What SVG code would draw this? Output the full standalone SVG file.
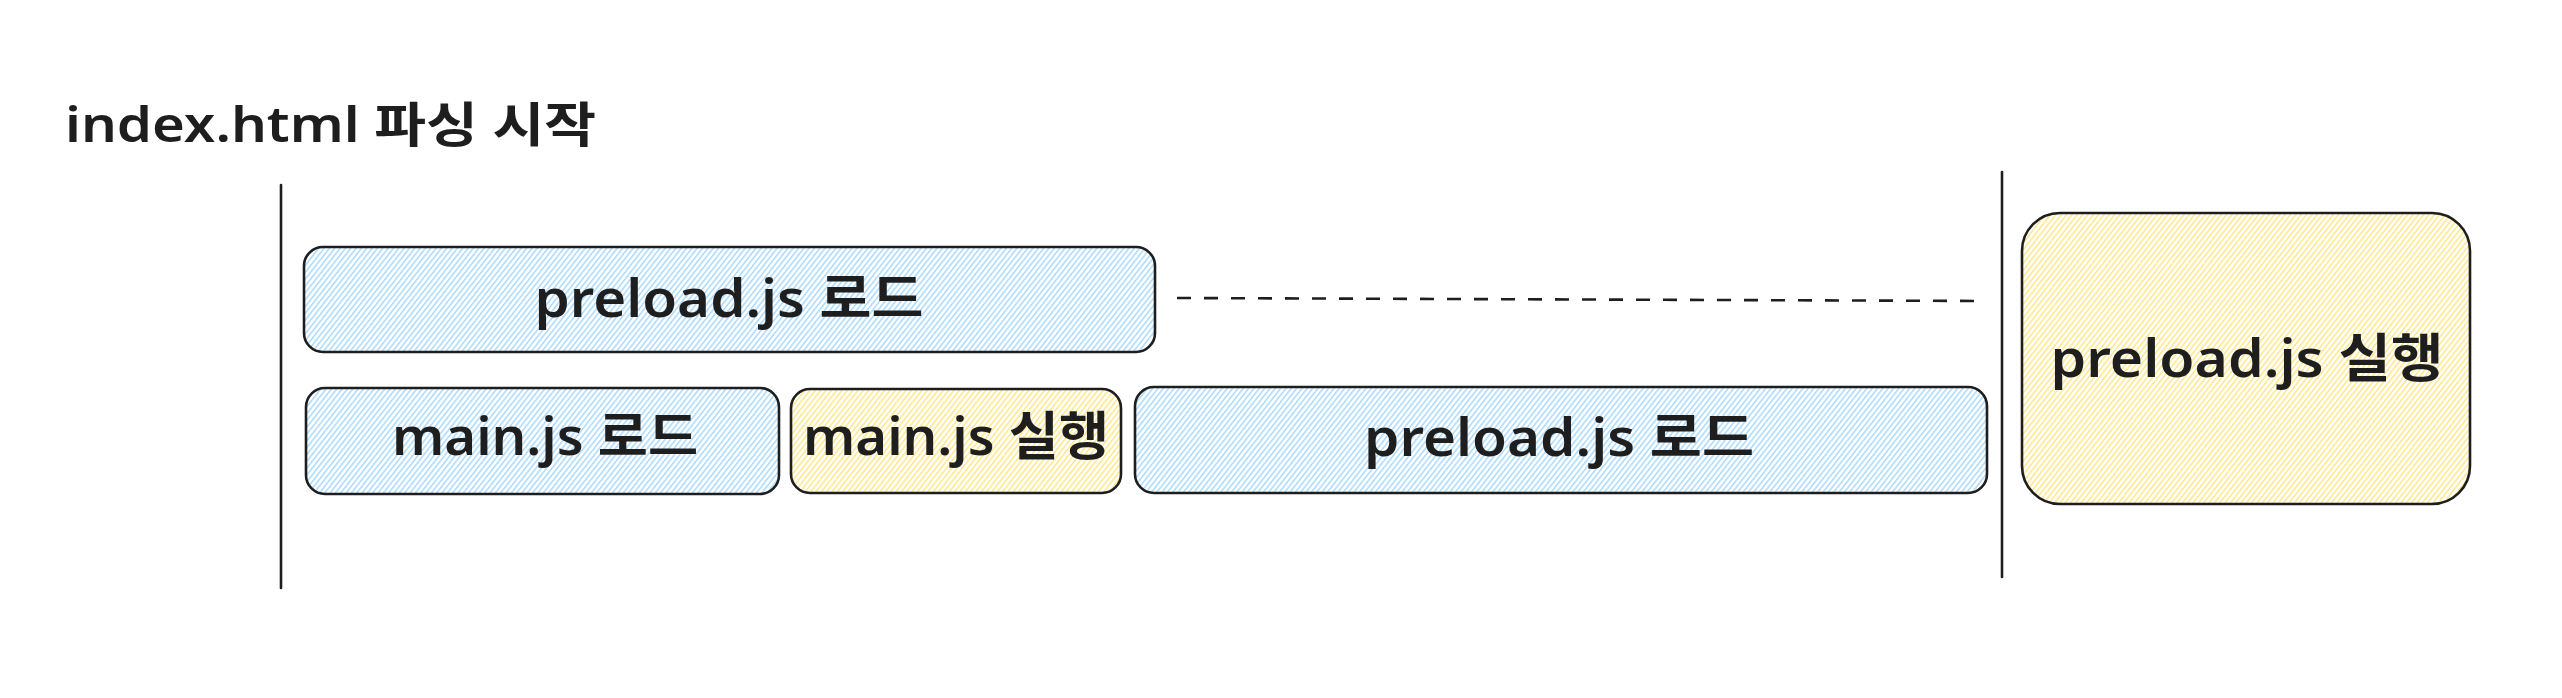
<svg xmlns="http://www.w3.org/2000/svg" width="2562" height="698" viewBox="0 0 2562 698">
  <defs>
    <pattern id="hBlue" patternUnits="userSpaceOnUse" width="4.2" height="10" patternTransform="rotate(38)">
      <rect x="0" y="0" width="4.2" height="10" fill="#ffffff"/>
      <line x1="0.8" y1="0" x2="0.8" y2="10" stroke="#a5d8ff" stroke-width="1.4"/>
    </pattern>
    <pattern id="hYellow" patternUnits="userSpaceOnUse" width="4.2" height="10" patternTransform="rotate(38)">
      <rect x="0" y="0" width="4.2" height="10" fill="#ffffff"/>
      <line x1="0.8" y1="0" x2="0.8" y2="10" stroke="#ffe680" stroke-width="1.4"/>
    </pattern>
  </defs>
  <style>
    .box { stroke: #1e1e1e; stroke-width: 2.6; }
    .blue { fill: url(#hBlue); }
    .yellow { fill: url(#hYellow); }
    .lbl { font-family: "Noto Sans", "Noto Sans CJK KR", sans-serif; font-size: 52px; font-weight: 600; fill: #1e1e1e; text-anchor: middle; }
    .title { font-family: "Noto Sans", "Noto Sans CJK KR", sans-serif; font-size: 48px; font-weight: 600; fill: #1e1e1e; }
    .sep { stroke: #1e1e1e; stroke-width: 2.6; fill: none; stroke-linecap: round; }
    .dash { stroke: #1e1e1e; stroke-width: 2.6; fill: none; stroke-dasharray: 14 13; }
  </style>
  <rect x="0" y="0" width="2562" height="698" fill="#ffffff"/>

  <g id="title">
    <text class="title" x="65" y="142" textLength="531" lengthAdjust="spacingAndGlyphs">index.html 파싱 시작</text>
  </g>

  <g id="separators">
    <line class="sep" x1="281" y1="185" x2="281" y2="588"/>
    <line class="sep" x1="2002" y1="172" x2="2002" y2="577"/>
  </g>

  <g id="preload-load-top">
    <rect class="box blue" x="304" y="247" width="851" height="105" rx="19"/>
    <text class="lbl" x="729" y="317" textLength="389" lengthAdjust="spacingAndGlyphs">preload.js 로드</text>
  </g>

  <g id="main-load">
    <rect class="box blue" x="306" y="388" width="473" height="106" rx="19"/>
    <text class="lbl" x="545" y="455" textLength="306" lengthAdjust="spacingAndGlyphs">main.js 로드</text>
  </g>

  <g id="main-exec">
    <rect class="box yellow" x="791" y="389" width="330" height="104" rx="19"/>
    <text class="lbl" x="956" y="455" textLength="306" lengthAdjust="spacingAndGlyphs">main.js 실행</text>
  </g>

  <g id="preload-load-bottom">
    <rect class="box blue" x="1135" y="387" width="852" height="106" rx="19"/>
    <text class="lbl" x="1559" y="456" textLength="390" lengthAdjust="spacingAndGlyphs">preload.js 로드</text>
  </g>

  <g id="preload-exec">
    <rect class="box yellow" x="2022" y="213" width="448" height="291" rx="38"/>
    <text class="lbl" x="2247" y="377" textLength="393" lengthAdjust="spacingAndGlyphs">preload.js 실행</text>
  </g>

  <g id="connectors">
    <line class="dash" x1="1177" y1="298" x2="1985" y2="301"/>
  </g>
</svg>
